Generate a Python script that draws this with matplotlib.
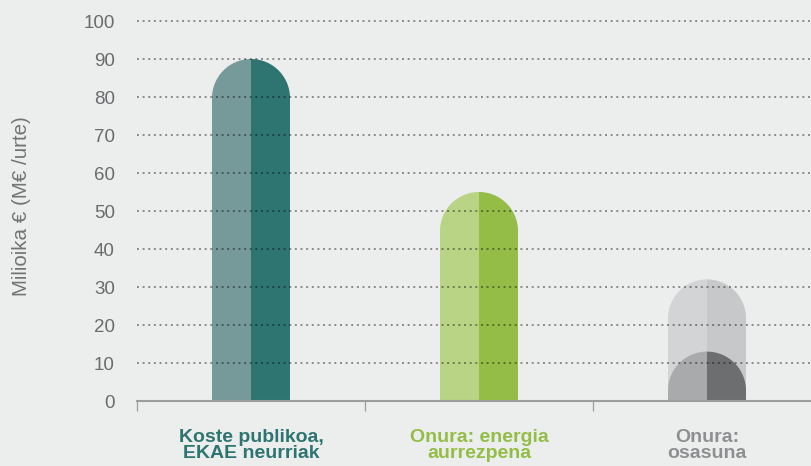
import matplotlib.pyplot as plt
import numpy as np
from matplotlib.patches import Polygon

# data
categories = ["Koste publikoa,\nEKAE neurriak", "Onura: energia\naurrezpena", "Onura:\nosasuna"]
values = [90, 55, 32]
inner_values = [None, None, 13]   # darker bar inside the third one
left_colors = ["#769a99", "#b8d484", "#d3d4d5"]
right_colors = ["#2e7571", "#93bd47", "#c7c8c9"]
inner_left, inner_right = "#a9aaab", "#6d6e70"
label_colors = ["#2e7571", "#93bd47", "#8e8f91"]
yticks = list(range(0, 101, 10))
ylabel = "Milioika € (M€ /urte)"

plt.rcParams['font.family'] = ['Liberation Sans', 'DejaVu Sans']
bg = "#eceeed"

W, H = 811, 466
fig = plt.figure(figsize=(W / 100, H / 100), dpi=100, facecolor=bg)

x_px_per_unit = 228.0
y_px_per_unit = 3.8
ymax = 102
ax = fig.add_axes([137 / W, 65 / H, 3 * x_px_per_unit / W, ymax * y_px_per_unit / H])
ax.set_facecolor(bg)
ax.set_xlim(-0.5, 2.5)
ax.set_ylim(0, ymax)

half_w = 39 / x_px_per_unit
ry = 39 / y_px_per_unit


def half_bar(x0, side, h, color, z):
    t = np.linspace(0, np.pi / 2, 40)
    arc = [(x0 + side * half_w * np.cos(a), h - ry + ry * np.sin(a)) for a in t]
    pts = [(x0, 0), (x0 + side * half_w, 0)] + arc + [(x0, h)]
    ax.add_patch(Polygon(pts, closed=True, facecolor=color, edgecolor='none', zorder=z))


for i, v in enumerate(values):
    half_bar(i, -1, v, left_colors[i], 1)
    half_bar(i, 1, v, right_colors[i], 1)
    if inner_values[i] is not None:
        half_bar(i, -1, inner_values[i], inner_left, 1.1)
        half_bar(i, 1, inner_values[i], inner_right, 1.1)

# dotted gridlines on top of bars
for y in yticks[1:]:
    ax.axhline(y, color='black', alpha=0.42, lw=1.4, linestyle=(0, (1, 1.9)), zorder=2)

for s in ['left', 'top', 'right']:
    ax.spines[s].set_visible(False)
ax.spines['bottom'].set_color('#9d9d9d')
ax.spines['bottom'].set_linewidth(1.5)

ax.set_yticks(yticks)
ax.set_yticklabels([str(t) for t in yticks])
ax.tick_params(axis='y', length=0, pad=16, labelsize=13.5, labelcolor='#6a6b6d')

ax.set_xticks(range(len(categories)))
ax.set_xticklabels(categories, fontweight='bold', fontsize=14, linespacing=0.95)
ax.tick_params(axis='x', which='major', length=0, pad=20)
for lbl, c in zip(ax.get_xticklabels(), label_colors):
    lbl.set_color(c)
ax.set_xticks([-0.5, 0.5, 1.5, 2.5], minor=True)
ax.tick_params(axis='x', which='minor', length=7, width=0.9, color='#9d9d9d', direction='out')

fig.text(22 / W, 1 - 206 / H, ylabel, rotation=90, ha='center', va='center',
         fontsize=14.8, color='#727375')

fig.savefig("out.png", dpi=100, facecolor=bg)
